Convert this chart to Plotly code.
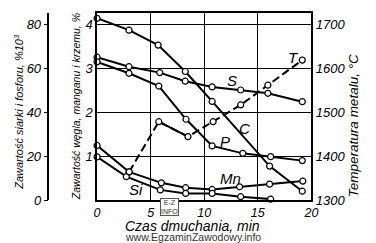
import plotly.graph_objects as go

# ---- data ----
c_x = [0, 2.98, 5.7, 8.23, 10.74, 16.1, 19.15]
c_y = [4.13, 3.86, 3.52, 2.92, 2.24, 0.77, 0.2]

mn_x = [0, 2.98, 6.0, 8.27, 10.74, 13.3, 16.1, 19.2]
mn_y = [1.24, 0.64, 0.39, 0.28, 0.24, 0.30, 0.36, 0.43]

si_x = [0, 2.73, 5.9, 8.27, 10.74, 13.4, 16.2]
si_y = [0.98, 0.53, 0.23, 0.15, 0.15, 0.075, 0.02]

s_x = [0, 2.98, 5.85, 8.23, 10.74, 13.4, 15.94, 19.15]
s_y = [64.9, 60.6, 57.9, 54.0, 51.4, 50.0, 48.5, 44.7]

p_x = [0, 2.98, 5.76, 8.3, 10.74, 13.6, 16.2, 19.15]
p_y = [62.8, 57.6, 51.8, 36.7, 24.6, 21.2, 19.7, 17.9]

t_x = [3.0, 5.76, 8.48, 10.83, 13.4, 15.94, 19.15]
t_y = [1364, 1478, 1444, 1478, 1516, 1561, 1618]

x_ticks = [0, 5, 10, 15, 20]
c_ticks = [1, 2, 3, 4]
sp_ticks = [0, 20, 40, 60, 80]
t_ticks = [1300, 1400, 1500, 1600, 1700]

labels = [
    ("S", 12.55, 2.72, "y"),
    ("C", 13.8, 1.63, "y"),
    ("P", 11.95, 1.34, "y"),
    ("Mn", 12.45, 0.5, "y"),
    ("Si", 3.65, 0.23, "y"),
    ("T", 18.3, 1624, "y3"),
]

FONT = "Liberation Sans"
line = dict(color="black", width=2)
mark = dict(symbol="circle", size=6, color="white", line=dict(color="black", width=1.2))

fig = go.Figure()
for xs, ys, ax in [(c_x, c_y, "y"), (mn_x, mn_y, "y"), (si_x, si_y, "y"),
                   (s_x, s_y, "y2"), (p_x, p_y, "y2")]:
    fig.add_trace(go.Scatter(x=xs, y=ys, yaxis=ax, mode="lines+markers",
                             line=line, marker=mark, showlegend=False, cliponaxis=False))

fig.add_trace(go.Scatter(x=t_x, y=t_y, yaxis="y3", mode="lines",
                         line=dict(color="black", width=2, dash="8px,4px"), showlegend=False))
fig.add_trace(go.Scatter(x=t_x[1:3], y=t_y[1:3], yaxis="y3", mode="lines",
                         line=line, showlegend=False))
fig.add_trace(go.Scatter(x=t_x, y=t_y, yaxis="y3", mode="markers",
                         marker=mark, showlegend=False, cliponaxis=False))

W, H = 376, 243
L, R, T, B = 10, 10, 13, 43
pw, ph = W - L - R, H - T - B

def px(v):
    return (v - L) / pw

def py(v):
    return (H - B - v) / ph

tickfont = dict(family=FONT, size=13, color="black", style="italic")

fig.update_layout(
    width=W, height=H, margin=dict(l=L, r=R, t=T, b=B),
    paper_bgcolor="white", plot_bgcolor="white",
    xaxis=dict(domain=[px(96.5), px(317)], range=[0, 20], tickvals=x_ticks,
               showgrid=True, gridcolor="black", gridwidth=1.3,
               showline=True, linecolor="black", linewidth=1.5, mirror=True,
               ticks="", ticklen=0, tickfont=dict(tickfont, size=12.5), zeroline=False),
    yaxis=dict(range=[0, 4.25], tickvals=c_ticks, showgrid=True, gridcolor="black",
               gridwidth=1.3, showline=True, linecolor="black", linewidth=1.5,
               ticks="", ticklen=0, tickfont=tickfont, zeroline=False),
    yaxis2=dict(range=[0, 85], tickvals=sp_ticks, overlaying="y", anchor="free",
                position=px(46.5), side="left", showgrid=False, showline=True,
                linecolor="black", linewidth=1.5, ticks="outside", ticklen=4,
                tickcolor="black", tickfont=tickfont, zeroline=False),
    yaxis3=dict(range=[1300, 1725], tickvals=t_ticks, overlaying="y", anchor="x",
                side="right", showgrid=False, showline=True, linecolor="black",
                linewidth=1.5, ticks="", ticklen=0, tickfont=tickfont, zeroline=False),
)

for txt, lx, ly, ax in labels:
    fig.add_annotation(x=lx, y=ly, xref="x", yref=ax, text=txt, showarrow=False,
                       xanchor="center", yanchor="middle",
                       font=dict(family=FONT, size=15, color="black", style="italic"))


def title(txt, x, y, size, angle=0, color="black", style="italic"):
    fig.add_annotation(x=px(x), y=py(y), xref="paper", yref="paper", textangle=angle,
                       text=txt, showarrow=False, xanchor="center", yanchor="middle",
                       font=dict(family=FONT, size=size, color=color, style=style))

title("Zawartość siarki i fosforu, %10<sup>3</sup>", 16, 112, 11, -90)
title("Zawartość węgla, manganu i krzemu, %", 75, 107, 10.5, -90)
title("Temperatura metalu, °C", 360, 126, 13.5, -90)
title("Czas dmuchania, min", 195, 226, 14)
title("www.EgzaminZawodowy.info", 195, 237, 10.5, color="#333", style="normal")

fig.add_annotation(x=px(171), y=py(207), xref="paper", yref="paper",
                   text="E-Z<br>INFO", showarrow=False, bordercolor="#555",
                   xanchor="center", yanchor="middle",
                   borderwidth=1, borderpad=0, bgcolor="white",
                   font=dict(family=FONT, size=7, color="#333"))

fig.write_html("out.html")
